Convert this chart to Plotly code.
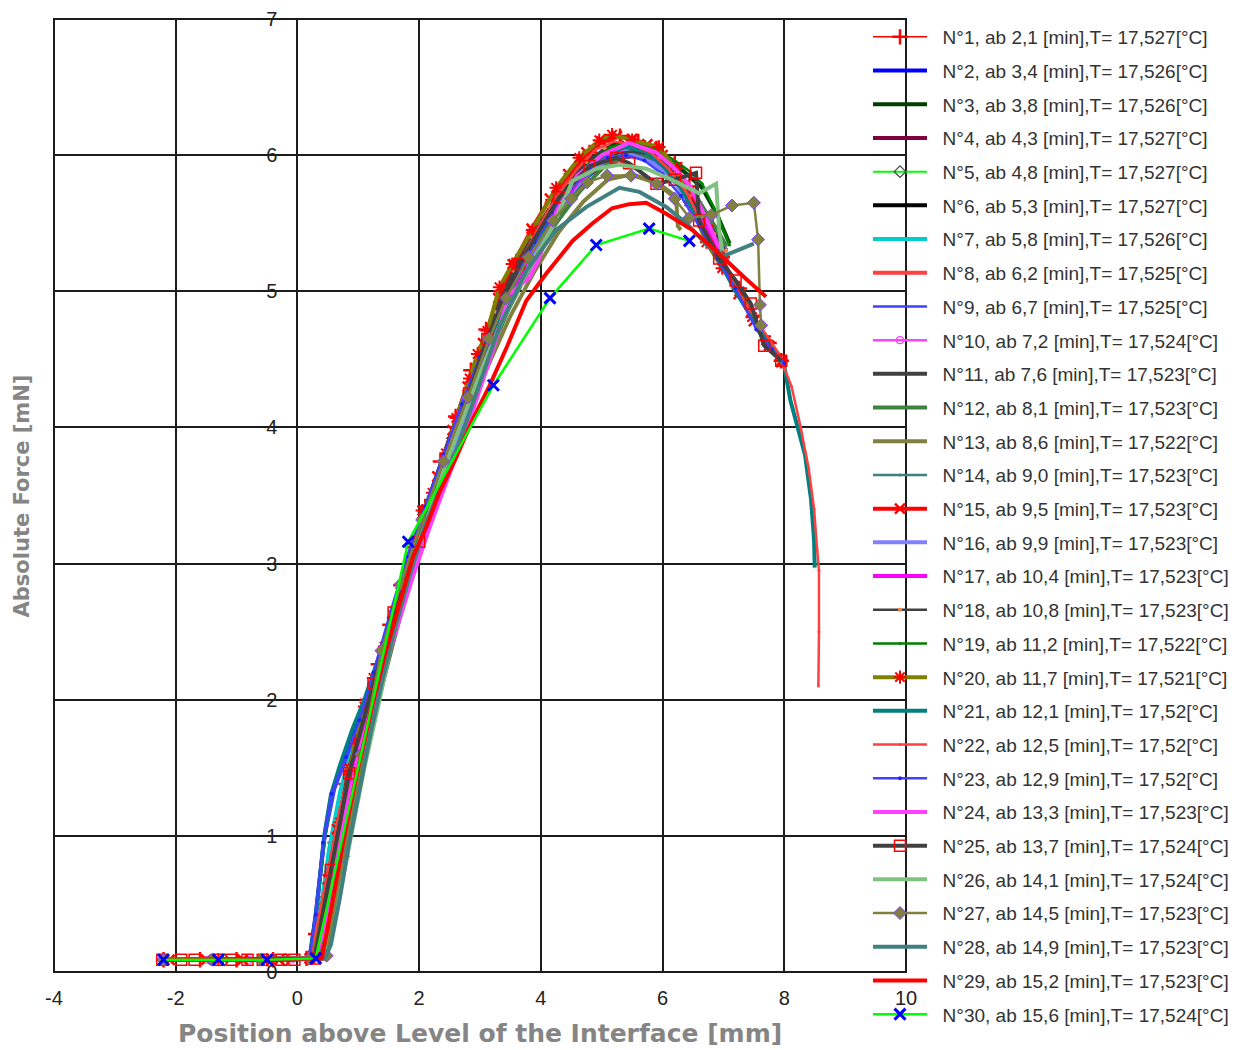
import plotly.graph_objects as go

# ---- run metadata (legend) ----
run_no = list(range(1, 31))
start_min = [2.1, 3.4, 3.8, 4.3, 4.8, 5.3, 5.8, 6.2, 6.7, 7.2, 7.6, 8.1, 8.6, 9.0, 9.5,
             9.9, 10.4, 10.8, 11.2, 11.7, 12.1, 12.5, 12.9, 13.3, 13.7, 14.1, 14.5, 14.9, 15.2, 15.6]
temp_c = ["17,527", "17,526", "17,526", "17,527", "17,527", "17,527", "17,526", "17,525", "17,525", "17,524",
          "17,523", "17,523", "17,522", "17,523", "17,523", "17,523", "17,523", "17,523", "17,522", "17,521",
          "17,52", "17,52", "17,52", "17,523", "17,524", "17,524", "17,523", "17,523", "17,523", "17,524"]

# ---- axis ticks ----
x_ticks = [-4, -2, 0, 2, 4, 6, 8, 10]
x_tick_text = ["-4", "-2", "0", "2", "4", "6", "8", "10"]
y_ticks = [0, 1, 2, 3, 4, 5, 6, 7]

# ---- measured curves: position [mm] / absolute force [mN] ----
x01 = [-2.2, -1.6, -1.0, -0.4, 0.15, 0.3, 0.45, 0.62, 0.8, 0.98, 1.15, 1.33, 1.52, 1.7, 1.9, 2.1, 2.35, 2.6, 2.85, 3.1, 3.35, 3.6, 3.9, 4.2, 4.5, 4.8, 5.05, 5.3, 5.6, 5.9, 6.2, 6.44, 6.72, 6.98, 7.26, 7.5, 7.75, 7.95]
f01 = [0.09, 0.09, 0.09, 0.09, 0.1, 0.28, 0.55, 0.95, 1.38, 1.74, 2.0, 2.26, 2.55, 2.84, 3.12, 3.42, 3.75, 4.08, 4.42, 4.72, 5.0, 5.22, 5.45, 5.67, 5.86, 6.02, 6.1, 6.14, 6.1, 6.05, 5.94, 5.77, 5.52, 5.25, 5.02, 4.82, 4.62, 4.49]

x02 = [-2.2, 0.2, 0.3, 0.44, 0.56, 0.8, 1.02, 1.3, 1.6, 1.9, 2.3, 2.7, 3.1, 3.5, 3.9, 4.3, 4.7, 5.1, 5.57, 5.73, 6.1, 6.45, 6.75, 7.0]
f02 = [0.09, 0.1, 0.42, 0.98, 1.3, 1.58, 1.86, 2.25, 2.68, 3.1, 3.6, 4.08, 4.55, 4.98, 5.32, 5.6, 5.82, 5.96, 6.0, 5.99, 5.9, 5.72, 5.5, 5.3]

x03 = [-2.2, 0.25, 0.4, 0.56, 0.75, 0.95, 1.2, 1.45, 1.7, 2.0, 2.4, 2.8, 3.2, 3.6, 4.0, 4.4, 4.8, 5.2, 5.6, 6.0, 6.3, 6.65, 6.9, 7.1]
f03 = [0.09, 0.1, 0.38, 0.72, 1.18, 1.66, 2.05, 2.42, 2.8, 3.28, 3.8, 4.3, 4.78, 5.16, 5.48, 5.75, 5.96, 6.08, 6.08, 6.0, 5.9, 5.76, 5.56, 5.35]

x04 = [-2.2, 0.25, 0.42, 0.6, 0.8, 1.0, 1.25, 1.5, 1.8, 2.1, 2.5, 2.9, 3.3, 3.7, 4.1, 4.5, 4.9, 5.3, 5.7, 6.1, 6.45, 6.8, 7.0]
f04 = [0.09, 0.1, 0.42, 0.85, 1.3, 1.72, 2.1, 2.48, 2.92, 3.35, 3.88, 4.38, 4.85, 5.2, 5.52, 5.78, 5.97, 6.06, 6.04, 5.92, 5.74, 5.48, 5.3]

x05 = [-2.2, -1.2, -0.2, 0.25, 0.45, 0.7, 0.95, 1.25, 1.55, 1.85, 2.2, 2.55, 2.9, 3.25, 3.6, 3.95, 4.3, 4.65, 5.0, 5.35, 5.7, 6.05, 6.4, 6.7, 6.95]
f05 = [0.09, 0.09, 0.09, 0.1, 0.5, 1.05, 1.65, 2.12, 2.55, 2.98, 3.45, 3.92, 4.38, 4.8, 5.15, 5.42, 5.66, 5.86, 6.0, 6.06, 6.03, 5.94, 5.76, 5.52, 5.3]

x06 = [-2.2, 0.3, 0.45, 0.62, 0.82, 1.05, 1.3, 1.58, 1.9, 2.25, 2.65, 3.05, 3.45, 3.85, 4.25, 4.65, 5.05, 5.45, 5.85, 6.25, 6.6, 6.9, 7.05]
f06 = [0.09, 0.1, 0.38, 0.8, 1.3, 1.76, 2.14, 2.55, 3.02, 3.52, 4.0, 4.5, 4.92, 5.3, 5.6, 5.84, 6.0, 6.06, 6.02, 5.88, 5.66, 5.42, 5.3]

x07 = [-2.2, 0.25, 0.38, 0.52, 0.7, 0.92, 1.15, 1.42, 1.72, 2.05, 2.45, 2.85, 3.25, 3.65, 4.05, 4.45, 4.85, 5.25, 5.65, 6.05, 6.4, 6.7, 6.95]
f07 = [0.09, 0.1, 0.45, 0.9, 1.32, 1.68, 2.0, 2.4, 2.85, 3.3, 3.82, 4.32, 4.78, 5.16, 5.48, 5.74, 5.93, 6.04, 6.03, 5.93, 5.76, 5.52, 5.32]

x08 = [-2.2, 0.25, 0.4, 0.58, 0.78, 1.0, 1.25, 1.52, 1.82, 2.15, 2.55, 2.95, 3.35, 3.75, 4.15, 4.55, 4.95, 5.35, 5.75, 6.15, 6.5, 6.8, 7.05]
f08 = [0.09, 0.1, 0.42, 0.8, 1.25, 1.7, 2.08, 2.5, 2.95, 3.42, 3.92, 4.42, 4.88, 5.24, 5.55, 5.8, 5.98, 6.07, 6.05, 5.94, 5.74, 5.5, 5.3]

x09 = [-2.2, 0.2, 0.32, 0.46, 0.62, 0.85, 1.1, 1.38, 1.68, 2.0, 2.4, 2.8, 3.2, 3.6, 4.0, 4.4, 4.8, 5.2, 5.6, 6.0, 6.4, 6.75, 7.06, 7.3, 7.54, 7.8, 8.0]
f09 = [0.09, 0.1, 0.45, 1.0, 1.35, 1.62, 1.95, 2.35, 2.8, 3.25, 3.78, 4.28, 4.75, 5.12, 5.44, 5.7, 5.9, 6.02, 6.02, 5.92, 5.7, 5.42, 5.18, 4.98, 4.74, 4.58, 4.46]

x10 = [-2.2, -1.5, -0.8, -0.1, 0.25, 0.4, 0.55, 0.72, 0.92, 1.15, 1.4, 1.65, 1.9, 2.2, 2.5, 2.8, 3.1, 3.4, 3.7, 4.0, 4.3, 4.6, 4.9, 5.2, 5.5, 5.8, 6.1, 6.4, 6.7, 6.95]
f10 = [0.09, 0.09, 0.09, 0.09, 0.1, 0.35, 0.7, 1.1, 1.55, 1.98, 2.35, 2.72, 3.05, 3.42, 3.82, 4.2, 4.55, 4.88, 5.16, 5.4, 5.62, 5.8, 5.94, 6.03, 6.05, 6.0, 5.9, 5.72, 5.5, 5.3]

x11 = [-2.2, 0.3, 0.45, 0.65, 0.88, 1.12, 1.4, 1.7, 2.0, 2.4, 2.8, 3.2, 3.6, 4.0, 4.4, 4.8, 5.2, 5.6, 6.0, 6.4, 6.75, 7.0]
f11 = [0.09, 0.1, 0.38, 0.85, 1.38, 1.85, 2.28, 2.72, 3.15, 3.65, 4.15, 4.62, 5.02, 5.36, 5.64, 5.86, 6.0, 6.03, 5.95, 5.76, 5.5, 5.32]

x12 = [-2.2, 0.35, 0.5, 0.7, 0.9, 1.12, 1.38, 1.62, 1.9, 2.25, 2.65, 3.05, 3.45, 3.85, 4.25, 4.65, 5.05, 5.45, 5.85, 6.25, 6.6, 6.9, 7.05]
f12 = [0.09, 0.1, 0.3, 0.72, 1.2, 1.66, 2.08, 2.5, 2.95, 3.45, 3.95, 4.42, 4.85, 5.2, 5.5, 5.74, 5.92, 6.0, 5.98, 5.86, 5.66, 5.45, 5.33]

x13 = [-2.2, 0.4, 0.55, 0.75, 0.95, 1.18, 1.42, 1.68, 1.95, 2.3, 2.7, 3.1, 3.5, 3.9, 4.3, 4.7, 5.1, 5.5, 5.9, 6.22, 6.25, 6.3]
f13 = [0.09, 0.1, 0.35, 0.8, 1.28, 1.75, 2.18, 2.6, 3.02, 3.5, 3.98, 4.42, 4.82, 5.15, 5.44, 5.66, 5.82, 5.86, 5.8, 5.7, 5.48, 5.45]

x14 = [-2.2, 0.3, 0.42, 0.58, 0.78, 1.0, 1.25, 1.52, 1.82, 2.15, 2.5, 2.85, 3.2, 3.55, 3.9, 4.25, 4.6, 4.95, 5.3, 5.65, 6.0, 6.35, 6.7, 7.0]
f14 = [0.09, 0.1, 0.4, 0.85, 1.3, 1.72, 2.1, 2.52, 2.98, 3.42, 3.85, 4.28, 4.68, 5.02, 5.3, 5.55, 5.76, 5.92, 6.0, 5.99, 5.9, 5.72, 5.48, 5.28]

x15 = [-2.1, -1.5, -0.9, -0.3, 0.2, 0.35, 0.5, 0.65, 0.85, 1.05, 1.25, 1.45, 1.65, 1.85, 2.05, 2.3, 2.55, 2.8, 3.05, 3.3, 3.55, 3.85, 4.15, 4.45, 4.75, 5.0, 5.25, 5.5, 5.75, 6.0, 6.25, 6.5, 6.75, 7.0, 7.25, 7.5, 7.75, 7.95]
f15 = [0.09, 0.09, 0.09, 0.09, 0.1, 0.35, 0.68, 1.05, 1.5, 1.82, 2.1, 2.38, 2.68, 2.98, 3.3, 3.64, 3.98, 4.3, 4.62, 4.95, 5.2, 5.46, 5.68, 5.86, 6.02, 6.1, 6.14, 6.12, 6.08, 6.0, 5.88, 5.7, 5.45, 5.2, 4.98, 4.78, 4.6, 4.48]

x16 = [-2.2, 0.3, 0.45, 0.62, 0.82, 1.05, 1.3, 1.58, 1.88, 2.2, 2.55, 2.9, 3.2, 3.48, 3.8, 4.1, 4.45, 4.8, 5.15, 5.5, 5.85, 6.2, 6.55, 6.85, 7.05]
f16 = [0.09, 0.1, 0.4, 0.82, 1.3, 1.75, 2.12, 2.52, 2.95, 3.38, 3.82, 4.22, 4.6, 4.92, 5.22, 5.48, 5.7, 5.88, 5.98, 6.0, 5.94, 5.8, 5.58, 5.4, 5.3]

x17 = [-2.2, 0.3, 0.45, 0.6, 0.8, 1.02, 1.28, 1.55, 1.85, 2.2, 2.6, 3.0, 3.4, 3.8, 4.2, 4.6, 5.0, 5.4, 5.8, 6.15, 6.45, 6.7, 6.93]
f17 = [0.09, 0.1, 0.35, 0.7, 1.2, 1.7, 2.1, 2.5, 2.95, 3.42, 3.95, 4.45, 4.88, 5.25, 5.55, 5.8, 5.98, 6.07, 6.02, 5.88, 5.7, 5.5, 5.32]

x18 = [-2.2, -1.6, -1.0, -0.4, 0.2, 0.35, 0.5, 0.66, 0.85, 1.05, 1.28, 1.52, 1.78, 2.05, 2.35, 2.65, 2.95, 3.25, 3.55, 3.85, 4.15, 4.45, 4.75, 5.05, 5.35, 5.65, 5.95, 6.2, 6.45, 6.65, 6.85, 7.04]
f18 = [0.09, 0.09, 0.09, 0.09, 0.1, 0.38, 0.72, 1.1, 1.5, 1.85, 2.18, 2.52, 2.9, 3.3, 3.72, 4.12, 4.5, 4.85, 5.15, 5.4, 5.62, 5.8, 5.95, 6.05, 6.08, 6.06, 5.98, 5.86, 5.7, 5.55, 5.42, 5.3]

x19 = [-2.2, 0.25, 0.4, 0.56, 0.75, 0.95, 1.2, 1.45, 1.72, 2.0, 2.35, 2.7, 3.05, 3.4, 3.75, 4.1, 4.45, 4.8, 5.15, 5.5, 5.85, 6.2, 6.45, 6.65, 6.9, 7.1]
f19 = [0.09, 0.1, 0.4, 0.75, 1.2, 1.68, 2.05, 2.42, 2.82, 3.25, 3.72, 4.15, 4.58, 4.95, 5.25, 5.52, 5.75, 5.94, 6.06, 6.1, 6.06, 5.96, 5.88, 5.79, 5.56, 5.34]

x20 = [-2.2, -1.3, -0.5, 0.2, 0.4, 0.56, 0.7, 0.85, 0.95, 1.1, 1.25, 1.43, 1.6, 1.72, 1.84, 2.05, 2.22, 2.44, 2.61, 2.83, 2.96, 3.12, 3.32, 3.53, 3.86, 4.25, 4.63, 4.96, 5.17, 5.5, 5.94, 6.22, 6.44, 6.72, 6.98, 7.26, 7.47, 7.7, 7.95]
f20 = [0.09, 0.09, 0.09, 0.1, 0.4, 0.73, 1.1, 1.45, 1.7, 1.95, 2.16, 2.39, 2.65, 2.82, 2.99, 3.39, 3.52, 3.81, 4.07, 4.36, 4.54, 4.71, 5.03, 5.2, 5.45, 5.76, 5.98, 6.11, 6.15, 6.11, 6.06, 5.9, 5.66, 5.36, 5.17, 5.0, 4.81, 4.64, 4.49]

x21 = [-2.2, 0.2, 0.3, 0.44, 0.55, 0.7, 0.9, 1.1, 1.35, 1.6, 1.85, 2.1, 2.4, 2.7, 3.0, 3.3, 3.6, 3.9, 4.2, 4.5, 4.8, 5.1, 5.4, 5.7, 6.0, 6.3, 6.6, 6.9, 7.2, 7.5, 7.8, 8.0, 8.1, 8.24, 8.34, 8.44, 8.49, 8.5]
f21 = [0.09, 0.1, 0.4, 1.0, 1.3, 1.52, 1.78, 2.0, 2.33, 2.68, 3.0, 3.35, 3.75, 4.12, 4.48, 4.8, 5.1, 5.35, 5.57, 5.76, 5.92, 6.02, 6.06, 6.03, 5.93, 5.76, 5.52, 5.25, 5.0, 4.78, 4.58, 4.45, 4.2, 3.98, 3.8, 3.47, 3.17, 2.97]

x22 = [-2.2, 0.2, 0.35, 0.5, 0.7, 1.0, 1.3, 1.6, 1.9, 2.2, 2.5, 2.8, 3.1, 3.4, 3.7, 4.0, 4.3, 4.6, 4.9, 5.2, 5.5, 5.8, 6.1, 6.4, 6.7, 7.0, 7.3, 7.6, 7.9, 8.12, 8.27, 8.4, 8.49, 8.54, 8.57, 8.57, 8.56]
f22 = [0.09, 0.1, 0.4, 0.75, 1.2, 1.72, 2.15, 2.6, 3.0, 3.45, 3.88, 4.25, 4.6, 4.95, 5.25, 5.5, 5.72, 5.9, 6.04, 6.1, 6.08, 6.02, 5.9, 5.72, 5.45, 5.18, 4.95, 4.75, 4.55, 4.3, 4.0, 3.7, 3.4, 3.1, 2.95, 2.5, 2.1]

x23 = [-2.2, -1.5, -0.8, -0.1, 0.2, 0.3, 0.42, 0.56, 0.8, 1.02, 1.25, 1.5, 1.8, 2.1, 2.4, 2.7, 3.0, 3.3, 3.6, 3.9, 4.2, 4.5, 4.8, 5.1, 5.4, 5.7, 6.0, 6.3, 6.6, 6.9, 7.2, 7.54, 7.8, 8.0]
f23 = [0.09, 0.09, 0.09, 0.09, 0.1, 0.42, 0.95, 1.31, 1.58, 1.85, 2.2, 2.6, 3.05, 3.42, 3.8, 4.17, 4.52, 4.85, 5.12, 5.36, 5.58, 5.76, 5.9, 5.98, 6.0, 5.96, 5.86, 5.7, 5.48, 5.24, 5.02, 4.72, 4.57, 4.47]

x24 = [-2.2, 0.3, 0.45, 0.62, 0.82, 1.05, 1.3, 1.58, 1.88, 2.2, 2.55, 2.9, 3.2, 3.48, 3.81, 3.95, 4.25, 4.6, 5.0, 5.45, 5.9, 6.2, 6.44, 6.7, 6.93]
f24 = [0.09, 0.1, 0.35, 0.75, 1.22, 1.68, 2.05, 2.45, 2.88, 3.3, 3.72, 4.15, 4.55, 4.98, 5.1, 5.22, 5.58, 5.85, 6.0, 6.09, 6.02, 5.9, 5.78, 5.55, 5.32]

x25 = [-2.22, -1.91, -1.69, -1.31, -1.08, -0.82, -0.57, -0.26, -0.05, 0.28, 0.55, 0.85, 1.25, 1.58, 2.0, 2.45, 2.82, 3.12, 3.65, 4.3, 4.8, 5.24, 5.45, 5.9, 6.2, 6.55, 6.6, 6.93, 7.2, 7.45, 7.67, 7.95]
f25 = [0.09, 0.09, 0.09, 0.09, 0.09, 0.09, 0.09, 0.09, 0.09, 0.1, 0.75, 1.46, 2.12, 2.64, 3.16, 3.75, 4.25, 4.65, 5.2, 5.69, 5.92, 5.98, 5.94, 5.79, 5.82, 5.87, 5.52, 5.24, 5.08, 4.91, 4.6, 4.49]

x26 = [-2.2, 0.45, 0.6, 0.75, 0.9, 1.1, 1.35, 1.56, 1.8, 2.1, 2.4, 2.7, 3.0, 3.3, 3.6, 3.9, 4.2, 4.52, 4.91, 5.29, 5.73, 6.1, 6.6, 6.88, 6.93, 6.98]
f26 = [0.09, 0.1, 0.35, 0.7, 1.05, 1.5, 2.0, 2.45, 2.9, 3.3, 3.68, 4.05, 4.4, 4.72, 5.0, 5.25, 5.48, 5.81, 5.9, 5.93, 5.9, 5.83, 5.72, 5.79, 5.45, 5.3]

x27 = [-2.2, -1.4, -0.6, 0.2, 0.48, 0.75, 1.05, 1.38, 1.7, 2.05, 2.4, 2.8, 3.15, 3.43, 3.8, 4.2, 4.5, 4.76, 5.09, 5.48, 5.9, 6.2, 6.44, 6.8, 7.14, 7.5, 7.57, 7.6, 7.62]
f27 = [0.09, 0.09, 0.09, 0.1, 0.12, 0.85, 1.6, 2.36, 2.85, 3.32, 3.75, 4.22, 4.65, 4.95, 5.25, 5.52, 5.68, 5.8, 5.85, 5.85, 5.79, 5.68, 5.54, 5.56, 5.63, 5.65, 5.38, 4.9, 4.75]

x28 = [-2.2, 0.45, 0.55, 0.7, 0.85, 1.0, 1.2, 1.4, 1.6, 1.85, 2.1, 2.35, 2.61, 2.94, 3.32, 3.76, 4.25, 4.75, 5.29, 5.62, 6.06, 6.39, 6.77, 7.01, 7.5]
f28 = [0.09, 0.1, 0.2, 0.55, 0.95, 1.3, 1.75, 2.15, 2.52, 2.92, 3.28, 3.56, 3.83, 4.25, 4.74, 5.15, 5.45, 5.62, 5.76, 5.73, 5.62, 5.5, 5.32, 5.26, 5.35]

x29 = [-2.2, 0.4, 0.55, 0.75, 0.95, 1.2, 1.45, 1.7, 1.9, 2.12, 2.33, 2.61, 2.87, 3.15, 3.45, 3.76, 4.09, 4.52, 4.85, 5.17, 5.45, 5.73, 6.06, 6.49, 6.8, 7.04, 7.35, 7.7]
f29 = [0.09, 0.1, 0.45, 0.95, 1.4, 1.9, 2.35, 2.75, 3.05, 3.27, 3.52, 3.78, 4.05, 4.3, 4.6, 4.93, 5.13, 5.37, 5.5, 5.61, 5.64, 5.65, 5.57, 5.45, 5.33, 5.23, 5.1, 4.96]

x30 = [-2.2, -1.3, -0.5, 0.3, 1.82, 3.22, 4.15, 4.91, 5.78, 6.44]
f30 = [0.09, 0.09, 0.09, 0.1, 3.16, 4.31, 4.95, 5.34, 5.46, 5.37]

xs = [x01, x02, x03, x04, x05, x06, x07, x08, x09, x10, x11, x12, x13, x14, x15,
      x16, x17, x18, x19, x20, x21, x22, x23, x24, x25, x26, x27, x28, x29, x30]
fs = [f01, f02, f03, f04, f05, f06, f07, f08, f09, f10, f11, f12, f13, f14, f15,
      f16, f17, f18, f19, f20, f21, f22, f23, f24, f25, f26, f27, f28, f29, f30]

# ---- per-run line colour / width and marker style ----
line_color = ["#ff0000", "#0000ff", "#004000", "#800040", "#00ff00", "#000000", "#00cccc", "#ff4040", "#4040ff", "#ff40ff",
              "#404040", "#408040", "#808040", "#408080", "#ff0000", "#8080ff", "#ff00ff", "#404040", "#008000", "#808000",
              "#008080", "#ff4040", "#4040ff", "#ff40ff", "#404040", "#80c080", "#808040", "#408080", "#ff0000", "#00ff00"]
line_width = [1.5, 4, 4, 4, 2, 4, 4, 4, 2.5, 2.5,
              4, 4, 4, 2.5, 4, 4, 4, 2.5, 2.5, 4,
              4, 2.5, 2.5, 4, 4, 4, 2.5, 4, 4, 2.5]
markers = {
    1: dict(symbol="cross-thin", size=11, line=dict(width=2.5, color="#ff0000")),
    5: dict(symbol="diamond-open", size=9, color="#404040", line=dict(width=1.2)),
    10: dict(symbol="circle-open", size=7, color="#ff40ff", line=dict(width=1.2)),
    11: dict(symbol="circle", size=3, color="#404040"),
    14: dict(symbol="circle", size=3, color="#408080"),
    15: dict(symbol="x-thin", size=10, line=dict(width=2.5, color="#ff0000")),
    16: dict(symbol="circle", size=3, color="#8080ff"),
    18: dict(symbol="circle", size=4, color="#ff8040"),
    19: dict(symbol="circle", size=3, color="#008000"),
    20: dict(symbol="asterisk", size=11, line=dict(width=2, color="#ff0000")),
    22: dict(symbol="circle", size=3, color="#ff4040"),
    23: dict(symbol="circle", size=4, color="#2020ff"),
    24: dict(symbol="circle", size=3, color="#ff40ff"),
    25: dict(symbol="square-open", size=11, color="#ff0000", line=dict(width=1.5)),
    27: dict(symbol="diamond", size=10, color="#808040", line=dict(width=1, color="#8040ff")),
    30: dict(symbol="x-thin", size=11, line=dict(width=3, color="#0000ff")),
}


def fmt(v):
    return str(v).replace(".", ",")


fig = go.Figure()
for i, n in enumerate(run_no):
    label = f"\u00a0\u00a0N°{n}, ab {fmt(start_min[i])} [min],T= {temp_c[i]}[°C]"
    mk = markers.get(n)
    fig.add_trace(go.Scatter(
        x=xs[i], y=fs[i], name=label, legendgroup=f"run{n}",
        mode="lines+markers" if mk else "lines",
        line=dict(color=line_color[i], width=line_width[i]),
        marker=mk,
    ))

grid = "#1c1c1c"
tick_font = dict(family="Liberation Sans, Arial, sans-serif", size=20, color="#222222")
title_font = dict(family="DejaVu Sans, Verdana, sans-serif", color="#858585", weight="bold")

fig.update_layout(
    width=1236, height=1050,
    margin=dict(l=54, r=330, t=19, b=78, autoexpand=False),
    plot_bgcolor="white", paper_bgcolor="white",
    showlegend=True,
    legend=dict(
        xref="container", yref="container",
        x=868 / 1236, xanchor="left",
        y=1 - 18 / 1050, yanchor="top",
        font=dict(family="Liberation Sans, Arial, sans-serif", size=19, color="#333333"),
        tracegroupgap=6, itemwidth=54, maxheight=1050,
        bgcolor="rgba(0,0,0,0)", borderwidth=0,
    ),
    xaxis=dict(
        range=[-4, 10], tickvals=x_ticks, ticktext=x_tick_text,
        showgrid=True, gridcolor=grid, gridwidth=2,
        zeroline=False, showline=False, ticks="",
        ticklabelstandoff=12, tickfont=tick_font,
    ),
    yaxis=dict(
        range=[0, 7], tickvals=y_ticks,
        showgrid=True, gridcolor=grid, gridwidth=2,
        zeroline=False, showline=False, ticks="",
        anchor="free", position=4 / 14,
        ticklabelstandoff=20, tickfont=tick_font,
    ),
    shapes=[dict(type="rect", xref="paper", yref="paper", x0=0, x1=1, y0=0, y1=1,
                 line=dict(color=grid, width=2), layer="between")],
    annotations=[
        dict(text="Position above Level of the Interface [mm]", xref="paper", yref="paper",
             x=0.5, y=-0.065, xanchor="center", yanchor="middle", showarrow=False,
             font=dict(size=25, **title_font)),
        dict(text="Absolute Force [mN]", xref="paper", yref="paper",
             x=-0.0376, y=0.5, xanchor="center", yanchor="middle", showarrow=False,
             textangle=-90, font=dict(size=21, **title_font)),
    ],
)

fig.write_html("out.html")
